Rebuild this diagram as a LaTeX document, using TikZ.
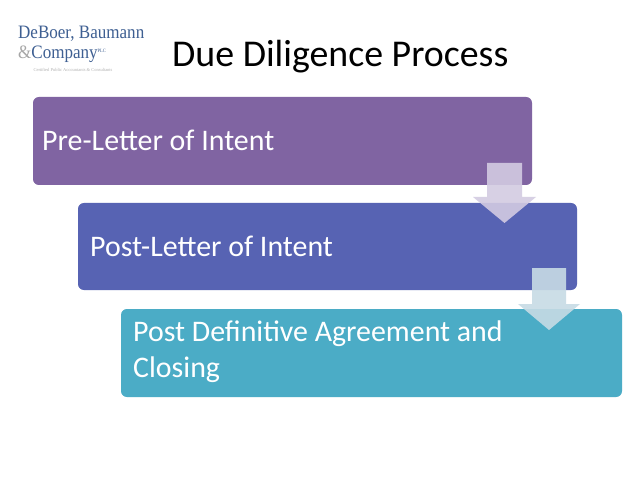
\documentclass[tikz,border=0pt]{standalone}
\usepackage{fontspec}
\setmainfont{Carlito}
\newfontfamily\logofont{Liberation Serif}
\definecolor{stepone}{HTML}{8064A2}
\definecolor{steptwo}{HTML}{5763B3}
\definecolor{stepthree}{HTML}{4BACC6}
\definecolor{arrowone}{HTML}{D3CBE2}
\definecolor{arrowtwo}{HTML}{C7DBE5}
\definecolor{logoblue}{HTML}{3E5F92}
\tikzset{
  phasebox/.style={rounded corners=6pt},
  phasetext/.style={anchor=west, text=white, font=\fontsize{30}{36}\selectfont, align=left, inner sep=0pt}
}
\begin{document}
\begin{tikzpicture}[x=1bp,y=-1bp] %Slide
  \useasboundingbox[fill=white] (0,0) rectangle (638,479);
  %Logo e titulo
  \node[anchor=west, text=logoblue, font=\logofont\fontsize{19}{19}\selectfont, xscale=0.9] (logoa) at (15,34) {DeBoer, Baumann};
  \node[anchor=west, text=logoblue, font=\logofont\fontsize{19}{19}\selectfont, xscale=0.9] (logob) at (15,54) {\textcolor{gray!70}{\&}Company\textsuperscript{\tiny PLC}};
  \node[anchor=west, text=gray!60, font=\logofont\fontsize{4.5}{4.5}\selectfont] (logoc) at (30,70) {Certified Public Accountants \& Consultants};
  \node[anchor=west, font=\fontsize{38}{44}\selectfont, inner sep=0pt] (title) at (172,57) {Due Diligence Process};
  %Caixas
  \fill[phasebox, stepone] (33,97) rectangle (532,185);
  \fill[phasebox, steptwo] (78,203) rectangle (577,290);
  \fill[phasebox, stepthree] (121,309) rectangle (622,397);
  \node[phasetext] (pre) at (42,140) {Pre-Letter of Intent};
  \node[phasetext] (post) at (90,246) {Post-Letter of Intent};
  \node[phasetext] (final) at (133,352) {Post Definitive Agreement and\\Closing};
  %Setas
  \fill[arrowone, opacity=0.9] (487,163) -- (522,163) -- (522,197) -- (536,197) -- (504.5,223) -- (473,197) -- (487,197) -- cycle;
  \fill[arrowtwo, opacity=0.9] (532,268) -- (566,268) -- (566,304) -- (580,304) -- (549,330) -- (518,304) -- (532,304) -- cycle;
\end{tikzpicture}
\end{document}
